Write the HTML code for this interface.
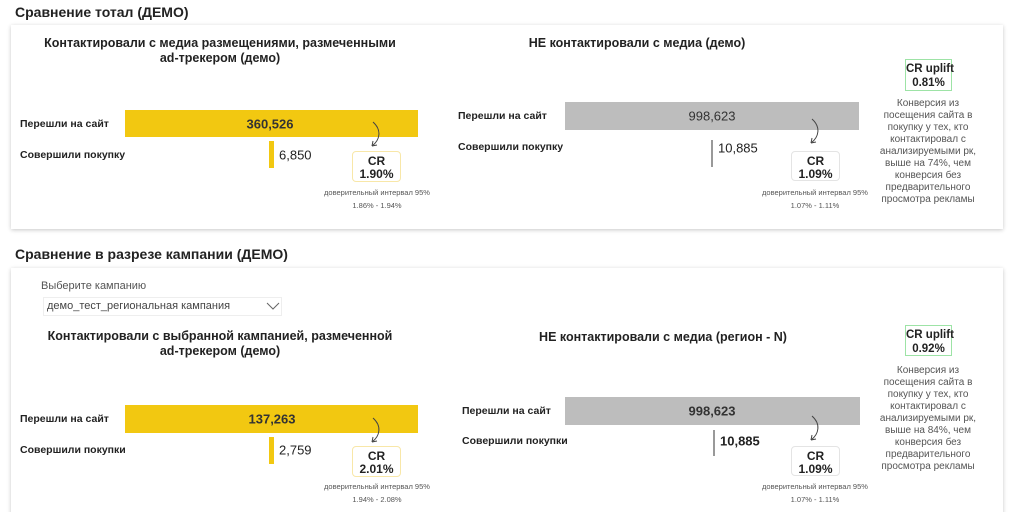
<!DOCTYPE html><html style="overflow:hidden;height:512px"><head><meta charset="utf-8"><style>
body{margin:0;width:1024px;height:512px;background:#fff;position:relative;overflow:hidden;font-family:"Liberation Sans","Noto Sans CJK SC",sans-serif;color:#222}
.a{position:absolute;white-space:nowrap}
.h{font-weight:bold;font-size:14px}
.card{position:absolute;background:#fff;box-shadow:0 1px 4px rgba(0,0,0,.22)}
.st{font-weight:bold;font-size:12.5px;text-align:center;line-height:15px}
.lb{font-weight:bold;font-size:10.5px;transform:translateY(-50%)}
.v{font-size:13px;transform:translateY(-50%)}
.bar{position:absolute}
.cr{position:absolute;border-radius:4px;text-align:center;font-weight:bold;font-size:12px;line-height:13px;box-sizing:border-box;padding-top:3px;background:#fff}
.ci{font-size:7.5px;color:#555;text-align:center;line-height:13px;transform:translateX(-50%)}
.up{position:absolute;border:1.5px solid #9de3a6;text-align:center;font-weight:bold;font-size:11.5px;line-height:14px;box-sizing:border-box;padding-top:2px;white-space:nowrap}
.ds{font-size:10px;color:#555;text-align:center;line-height:12px;transform:translateX(-50%)}
</style></head><body>
<div class="a h" style="left:15px;top:4px">Сравнение тотал (ДЕМО)</div>
<div class="card" style="left:11px;top:25px;width:992px;height:204px"></div>
<div class="a st" style="left:220px;top:36px;transform:translateX(-50%)">Контактировали с медиа размещениями, размеченными<br>ad-трекером (демо)</div>
<div class="bar" style="left:125px;top:110px;width:293px;height:27px;background:#F2C811"></div>
<div class="a v" style="left:270px;top:124px;transform:translate(-50%,-50%);font-weight:bold;color:#333">360,526</div>
<div class="a lb" style="left:20px;top:124px">Перешли на сайт</div>
<div class="a lb" style="left:20px;top:155px">Совершили покупку</div>
<div class="bar" style="left:269px;top:141px;width:5px;height:27px;background:#F2C811"></div>
<div class="a v" style="left:279px;top:155px">6,850</div>
<svg class="a" style="left:360px;top:120px" width="30" height="34"><path d="M13 2 C22 10,20 20,12 26" fill="none" stroke="#444" stroke-width="1"/><path d="M12 26 l1 -5 M12 26 l5 -1" stroke="#444" stroke-width="1"/></svg>
<div class="cr" style="left:352px;top:151px;width:49px;height:31px;border:1.5px solid #f8e7a8">CR<br>1.90%</div>
<div class="a ci" style="left:377px;top:186px">доверительный интервал 95%<br>1.86% - 1.94%</div>

<div class="a st" style="left:637px;top:36px;transform:translateX(-50%)">НЕ контактировали с медиа (демо)</div>
<div class="bar" style="left:565px;top:102px;width:294px;height:28px;background:#BDBDBD"></div>
<div class="a v" style="left:712px;top:116px;transform:translate(-50%,-50%);color:#333">998,623</div>
<div class="a lb" style="left:458px;top:116px">Перешли на сайт</div>
<div class="a lb" style="left:458px;top:147px">Совершили покупку</div>
<div class="bar" style="left:711px;top:140px;width:2px;height:27px;background:#999"></div>
<div class="a v" style="left:718px;top:148px">10,885</div>
<svg class="a" style="left:799px;top:117px" width="30" height="34"><path d="M13 2 C22 10,20 20,12 26" fill="none" stroke="#444" stroke-width="1"/><path d="M12 26 l1 -5 M12 26 l5 -1" stroke="#444" stroke-width="1"/></svg>
<div class="cr" style="left:791px;top:151px;width:49px;height:30px;border:1.5px solid #e4e4e4">CR<br>1.09%</div>
<div class="a ci" style="left:815px;top:186px">доверительный интервал 95%<br>1.07% - 1.11%</div>
<div class="up" style="left:905px;top:59px;width:47px;height:32px">CR uplift<br>0.81%</div>
<div class="a ds" style="left:928px;top:98px">Конверсия из<br>посещения сайта в<br>покупку у тех, кто<br>контактировал с<br>анализируемыми рк,<br>выше на 74%, чем<br>конверсия без<br>предварительного<br>просмотра рекламы</div>

<div class="a h" style="left:15px;top:246px">Сравнение в разрезе кампании (ДЕМО)</div>
<div class="card" style="left:11px;top:268px;width:992px;height:260px"></div>
<div class="a" style="left:41px;top:280px;font-size:11px;color:#555">Выберите кампанию</div>
<div class="a" style="left:43px;top:297px;width:239px;height:19px;border:1px solid #eee;box-sizing:border-box"></div>
<div class="a" style="left:47px;top:300px;font-size:11px;color:#444">демо_тест_региональная кампания</div>
<svg class="a" style="left:266px;top:302px" width="14" height="9"><path d="M1 1 L7 7 L13 1" fill="none" stroke="#666" stroke-width="1"/></svg>
<div class="a st" style="left:220px;top:329px;transform:translateX(-50%)">Контактировали с выбранной кампанией, размеченной<br>ad-трекером (демо)</div>
<div class="bar" style="left:125px;top:405px;width:293px;height:28px;background:#F2C811"></div>
<div class="a v" style="left:272px;top:419px;transform:translate(-50%,-50%);font-weight:bold;color:#333">137,263</div>
<div class="a lb" style="left:20px;top:419px">Перешли на сайт</div>
<div class="a lb" style="left:20px;top:450px">Совершили покупки</div>
<div class="bar" style="left:269px;top:437px;width:5px;height:27px;background:#F2C811"></div>
<div class="a v" style="left:279px;top:450px">2,759</div>
<svg class="a" style="left:360px;top:416px" width="30" height="34"><path d="M13 2 C22 10,20 20,12 26" fill="none" stroke="#444" stroke-width="1"/><path d="M12 26 l1 -5 M12 26 l5 -1" stroke="#444" stroke-width="1"/></svg>
<div class="cr" style="left:352px;top:446px;width:49px;height:31px;border:1.5px solid #f8e7a8">CR<br>2.01%</div>
<div class="a ci" style="left:377px;top:480px">доверительный интервал 95%<br>1.94% - 2.08%</div>

<div class="a st" style="left:663px;top:330px;transform:translateX(-50%)">НЕ контактировали с медиа (регион - N)</div>
<div class="bar" style="left:565px;top:397px;width:295px;height:28px;background:#BDBDBD"></div>
<div class="a v" style="left:712px;top:411px;transform:translate(-50%,-50%);font-weight:bold;color:#333">998,623</div>
<div class="a lb" style="left:462px;top:411px">Перешли на сайт</div>
<div class="a lb" style="left:462px;top:441px">Совершили покупки</div>
<div class="bar" style="left:713px;top:430px;width:2px;height:26px;background:#999"></div>
<div class="a v" style="left:720px;top:441px;font-weight:bold">10,885</div>
<svg class="a" style="left:799px;top:414px" width="30" height="34"><path d="M13 2 C22 10,20 20,12 26" fill="none" stroke="#444" stroke-width="1"/><path d="M12 26 l1 -5 M12 26 l5 -1" stroke="#444" stroke-width="1"/></svg>
<div class="cr" style="left:791px;top:446px;width:49px;height:30px;border:1.5px solid #e4e4e4">CR<br>1.09%</div>
<div class="a ci" style="left:815px;top:480px">доверительный интервал 95%<br>1.07% - 1.11%</div>
<div class="up" style="left:905px;top:325px;width:47px;height:31px">CR uplift<br>0.92%</div>
<div class="a ds" style="left:928px;top:365px">Конверсия из<br>посещения сайта в<br>покупку у тех, кто<br>контактировал с<br>анализируемыми рк,<br>выше на 84%, чем<br>конверсия без<br>предварительного<br>просмотра рекламы</div>
</body></html>
